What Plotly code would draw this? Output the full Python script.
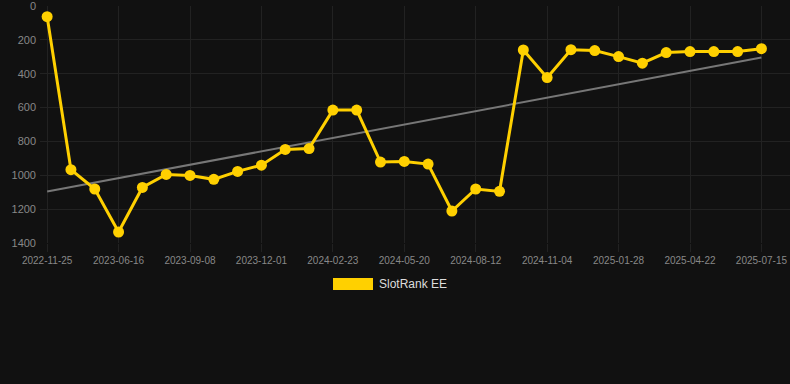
import numpy as np
import plotly.graph_objects as go

dates = ["2022-11-25", "2023-04-21", "2023-05-19", "2023-06-16", "2023-07-14", "2023-08-11",
         "2023-09-08", "2023-10-06", "2023-11-03", "2023-12-01", "2023-12-29", "2024-01-26",
         "2024-02-23", "2024-03-22", "2024-04-19", "2024-05-20", "2024-06-17", "2024-07-15",
         "2024-08-12", "2024-09-09", "2024-10-07", "2024-11-04", "2024-12-02", "2024-12-30",
         "2025-01-28", "2025-02-25", "2025-03-25", "2025-04-22", "2025-05-20", "2025-06-17",
         "2025-07-15"]
ranks = [63, 967, 1081, 1335, 1072, 995, 1001, 1024, 977, 940, 847, 842, 615, 615, 922,
         918, 934, 1211, 1081, 1095, 260, 423, 258, 263, 299, 338, 275, 269, 269, 269, 252]
tick_labels = ["2022-11-25", "2023-06-16", "2023-09-08", "2023-12-01", "2024-02-23",
               "2024-05-20", "2024-08-12", "2024-11-04", "2025-01-28", "2025-04-22", "2025-07-15"]
y_ticks = [0, 200, 400, 600, 800, 1000, 1200, 1400]
series_name = "SlotRank EE"

idx = np.arange(len(ranks))
slope, intercept = np.polyfit(idx, ranks, 1)
trend = slope * idx + intercept

GOLD = "#FFD000"
fig = go.Figure()
fig.add_trace(go.Scatter(x=dates, y=trend, mode="lines",
                         line=dict(color="#777777", width=2), hoverinfo="skip", showlegend=False))
fig.add_trace(go.Scatter(x=dates, y=ranks, mode="lines+markers", name=series_name,
                         line=dict(color=GOLD, width=3), marker=dict(color=GOLD, size=11),
                         showlegend=False))

L, T, B = 40, 6, 141
H = 384 - T - B
W = 790 - L
def px(x):
    return (x - L) / W
def py(y):
    return (384 - B - y) / H

fig.add_shape(type="rect", xref="paper", yref="paper",
              x0=px(333), x1=px(373), y0=py(290), y1=py(278),
              fillcolor=GOLD, line=dict(width=0))
fig.add_annotation(xref="paper", yref="paper", x=px(377), y=py(284), text=series_name,
                   showarrow=False, xanchor="left", yanchor="middle",
                   font=dict(size=12, color="#dddddd"))

fig.update_layout(
    width=790, height=384,
    margin=dict(l=L, r=0, t=T, b=B),
    paper_bgcolor="#111111", plot_bgcolor="#111111",
    font=dict(family="Liberation Sans, Arial, sans-serif", color="#888888"),
    showlegend=False,
)
fig.update_xaxes(type="category", range=[-0.3, 31.2], tickmode="array", tickvals=tick_labels,
                 ticktext=tick_labels, tickfont=dict(size=10, color="#888888"),
                 showgrid=True, gridcolor="#222222", gridwidth=1,
                 ticks="outside", ticklen=8, tickcolor="#222222",
                 zeroline=False, showline=False, ticklabeloverflow="allow")
fig.update_yaxes(range=[1400, 0], tickmode="array", tickvals=y_ticks,
                 tickfont=dict(size=11, color="#888888"),
                 showgrid=True, gridcolor="#222222", gridwidth=1,
                 zeroline=False, showline=False, ticks="", ticklabelstandoff=3,
                 ticklabeloverflow="allow")

fig.write_html("out.html", config={"displayModeBar": False},
               post_script="document.body.style.margin='0';document.body.style.background='#111111';")
